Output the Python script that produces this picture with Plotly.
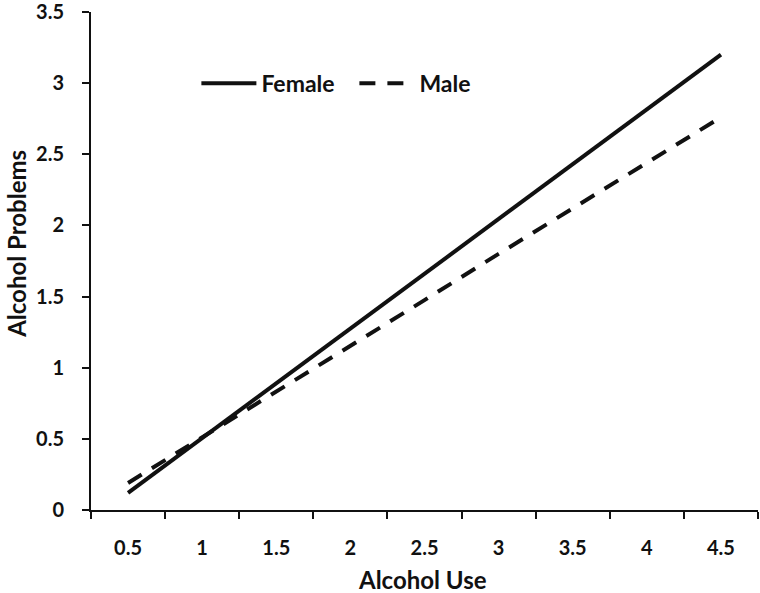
import plotly.graph_objects as go

alcohol_use = [0.5, 1.0, 1.5, 2.0, 2.5, 3.0, 3.5, 4.0, 4.5]
female = [0.12, 0.505, 0.89, 1.275, 1.66, 2.045, 2.43, 2.815, 3.20]
male = [0.19, 0.51, 0.83, 1.155, 1.475, 1.80, 2.12, 2.44, 2.76]
x_tick_labels = ["0.5", "1", "1.5", "2", "2.5", "3", "3.5", "4", "4.5"]
y_tick_vals = [0, 0.5, 1, 1.5, 2, 2.5, 3, 3.5]
y_tick_labels = ["0", "0.5", "1", "1.5", "2", "2.5", "3", "3.5"]

FONT = "Lato"

fig = go.Figure()
fig.add_trace(go.Scatter(x=alcohol_use, y=female, mode="lines", name="Female",
                         line=dict(color="#111111", width=4)))
fig.add_trace(go.Scatter(x=alcohol_use, y=male, mode="lines", name="Male",
                         line=dict(color="#111111", width=4, dash="16px,12px")))

fig.update_layout(
    width=760, height=593,
    margin=dict(l=91, r=2, t=12, b=83),
    paper_bgcolor="white", plot_bgcolor="white",
    font=dict(family=FONT, color="#111111"),
    showlegend=True,
    legend=dict(orientation="h", x=0.158, y=0.857, xanchor="left", yanchor="middle",
                font=dict(size=23, family=FONT, weight="bold"),
                bgcolor="rgba(0,0,0,0)", itemwidth=55, tracegroupgap=0,
                entrywidth=88, entrywidthmode="pixels"),
    xaxis=dict(
        range=[0.25, 4.75], tickmode="array", tickvals=alcohol_use, ticktext=x_tick_labels,
        ticks="", showgrid=False, zeroline=False, showline=True, linecolor="#111111",
        linewidth=2, ticklabelstandoff=19, automargin=False,
        tickfont=dict(size=20, family=FONT, weight="bold"),
        minor=dict(tickmode="array", tickvals=[0.25 + 0.5 * i for i in range(10)],
                   ticks="outside", ticklen=7, tickwidth=2, tickcolor="#111111", showgrid=False),
    ),
    yaxis=dict(
        range=[0, 3.5], tickmode="array", tickvals=y_tick_vals, ticktext=y_tick_labels,
        ticks="outside", ticklen=7, tickwidth=2, tickcolor="#111111",
        showgrid=False, zeroline=False, showline=True, linecolor="#111111", linewidth=2,
        ticklabelstandoff=14, automargin=False, ticklabeloverflow="allow",
        tickfont=dict(size=20, family=FONT, weight="bold"),
    ),
    annotations=[
        dict(text="Alcohol Use", xref="paper", yref="paper", x=0.497, y=-0.14,
             xanchor="center", yanchor="middle", showarrow=False,
             font=dict(size=24, family=FONT, weight="bold", color="#111111")),
        dict(text="Alcohol Problems", xref="paper", yref="paper", x=-0.112, y=0.535,
             xanchor="center", yanchor="middle", showarrow=False, textangle=-90,
             font=dict(size=24, family=FONT, weight="bold", color="#111111")),
    ],
)

fig.write_html("out.html", config={"displayModeBar": False},
               post_script="document.body.style.margin='0';")
